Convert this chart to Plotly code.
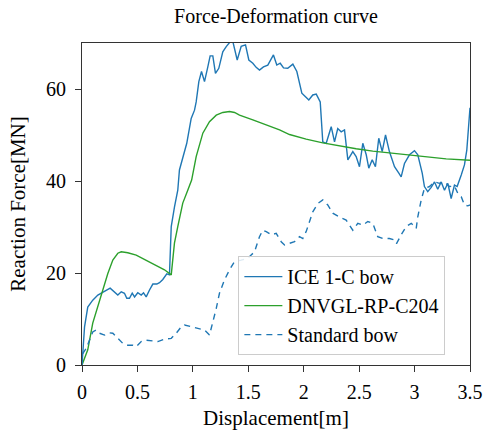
import plotly.graph_objects as go

# ICE 1-C bow
ice_x = [0, 0.007, 0.023, 0.052, 0.097, 0.143, 0.188, 0.218, 0.254, 0.293, 0.323, 0.354, 0.383, 0.404,
         0.428, 0.453, 0.474, 0.503, 0.534, 0.555, 0.579, 0.609, 0.639, 0.675, 0.699, 0.729, 0.765, 0.789,
         0.805, 0.834, 0.864, 0.879, 0.925, 0.945, 0.985, 1.015, 1.030, 1.054, 1.078, 1.105, 1.135, 1.156,
         1.180, 1.204, 1.234, 1.270, 1.301, 1.331, 1.358, 1.400, 1.436, 1.475, 1.505, 1.541, 1.571, 1.601,
         1.637, 1.676, 1.727, 1.757, 1.788, 1.818, 1.856, 1.902, 1.938, 1.962, 1.983, 2.016, 2.046, 2.082,
         2.113, 2.149, 2.172, 2.203, 2.248, 2.278, 2.307, 2.338, 2.368, 2.398, 2.443, 2.473, 2.503, 2.533,
         2.564, 2.587, 2.618, 2.647, 2.677, 2.708, 2.738, 2.773, 2.819, 2.858, 2.879, 2.909, 2.954, 2.999,
         3.029, 3.069, 3.089, 3.119, 3.150, 3.180, 3.209, 3.240, 3.270, 3.300, 3.330, 3.360, 3.384, 3.421,
         3.450, 3.471, 3.495, 3.5]
ice_y = [0, 3.3, 8.3, 12.6, 14.1, 15.2, 15.9, 16.2, 16.7, 15.9, 15.2, 15.9, 15.6, 14.5,
         14.5, 15.6, 14.8, 15.7, 15.2, 15.7, 14.8, 16.3, 17.6, 17.6, 17.9, 18.6, 19.8, 19.6,
         30.1, 34.3, 38.0, 42.4, 46.7, 48.2, 53.6, 55.4, 57.2, 61.6, 63.8, 61.6, 64.8, 67.2,
         67.2, 63.4, 64.5, 68.1, 69.2, 70.1, 70.6, 66.3, 69.3, 69.6, 66.3, 65.6, 64.7, 64.1,
         64.8, 65.2, 67.4, 65.2, 65.6, 64.6, 64.5, 65.4, 63.8, 61.6, 59.1, 58.3, 57.6, 58.7,
         58.9, 57.2, 48.5, 48.2, 51.8, 48.5, 51.4, 50.7, 51.1, 44.6, 46.4, 45.3, 43.1, 48.2,
         45.7, 42.8, 44.6, 43.1, 49.3, 46.4, 50.0, 46.4, 43.1, 41.7, 40.9, 43.8, 45.7, 46.6,
         45.7, 41.7, 38.8, 37.7, 38.6, 39.8, 38.2, 39.8, 38.0, 39.5, 36.2, 39.1, 38.8, 41.3,
         43.5, 46.7, 53.3, 55.9]

# DNVGL-RP-C204
dnv_x = [0, 0.007, 0.052, 0.097, 0.143, 0.188, 0.233, 0.278, 0.323, 0.354, 0.413, 0.489, 0.579, 0.669,
         0.744, 0.805, 0.834, 0.864, 0.909, 0.954, 0.989, 1.030, 1.090, 1.150, 1.211, 1.270, 1.331, 1.376,
         1.421, 1.541, 1.662, 1.782, 1.872, 2.022, 2.172, 2.323, 2.473, 2.623, 2.773, 2.984, 3.285, 3.5]
dnv_y = [0, 0.4, 3.3, 9.1, 12.7, 15.9, 19.9, 22.8, 24.3, 24.6, 24.4, 23.9, 22.8, 21.7,
         20.7, 19.6, 26.5, 30.1, 35.2, 38.0, 40.2, 45.3, 50.4, 52.9, 54.3, 54.9, 55.1, 54.9,
         54.3, 53.3, 52.2, 51.1, 50.1, 49.1, 48.3, 47.6, 47.0, 46.5, 46.1, 45.5, 44.8, 44.5]

# Standard bow
std_x = [0, 0.007, 0.038, 0.068, 0.097, 0.128, 0.158, 0.203, 0.248, 0.278, 0.323, 0.368, 0.413, 0.458,
         0.489, 0.534, 0.579, 0.624, 0.684, 0.744, 0.805, 0.850, 0.895, 0.925, 0.999, 1.060, 1.105, 1.150,
         1.180, 1.211, 1.240, 1.285, 1.331, 1.376, 1.436, 1.496, 1.526, 1.556, 1.601, 1.631, 1.662, 1.707,
         1.752, 1.797, 1.827, 1.872, 1.917, 1.962, 1.992, 2.022, 2.052, 2.082, 2.127, 2.172, 2.217, 2.262,
         2.323, 2.383, 2.443, 2.488, 2.533, 2.578, 2.623, 2.668, 2.713, 2.773, 2.819, 2.837, 2.879, 2.924,
         2.970, 3.015, 3.029, 3.060, 3.089, 3.135, 3.180, 3.224, 3.270, 3.315, 3.360, 3.390, 3.421, 3.450,
         3.480, 3.5]
std_y = [0, 2.5, 3.6, 5.4, 7.2, 7.6, 6.9, 6.5, 7.0, 6.9, 5.8, 4.7, 4.3, 4.3,
         4.0, 5.1, 5.4, 5.3, 5.1, 5.6, 5.8, 6.9, 8.3, 8.7, 8.3, 8.0, 7.6, 6.5,
         9.1, 12.3, 15.6, 18.5, 20.7, 22.5, 22.8, 23.2, 23.9, 24.6, 27.9, 29.3, 29.0, 28.3,
         28.6, 26.8, 26.1, 26.4, 26.8, 27.9, 27.5, 29.0, 31.2, 33.3, 35.1, 35.9, 34.8, 33.0,
         32.2, 31.5, 29.3, 30.8, 30.4, 31.2, 30.8, 27.9, 27.5, 27.5, 27.2, 26.4, 28.3, 30.1,
         30.8, 29.7, 32.2, 35.9, 38.4, 38.8, 39.8, 39.5, 39.8, 38.8, 38.9, 37.3, 36.6, 34.8,
         34.6, 34.8]

font_family = "Liberation Serif"
blue = "#1f77b4"
green = "#2ca02c"

fig = go.Figure()
fig.add_trace(go.Scatter(x=ice_x, y=ice_y, mode="lines", name="ICE 1-C bow",
                         line=dict(color=blue, width=1.4)))
fig.add_trace(go.Scatter(x=dnv_x, y=dnv_y, mode="lines", name="DNVGL-RP-C204",
                         line=dict(color=green, width=1.4)))
fig.add_trace(go.Scatter(x=std_x, y=std_y, mode="lines", name="Standard bow",
                         line=dict(color=blue, width=1.4, dash="6px,5px")))

fig.update_layout(
    width=485, height=431,
    margin=dict(l=82, r=15, t=43, b=66, autoexpand=False),
    paper_bgcolor="white", plot_bgcolor="white",
    font=dict(family=font_family, size=20, color="black"),
    title=dict(text="Force-Deformation curve", x=0.5, xref="paper", xanchor="center",
               y=0.963, yref="container", yanchor="middle",
               font=dict(size=20, family=font_family)),
    showlegend=True,
    legend=dict(x=0.403, y=0.338, xanchor="left", yanchor="top",
                bgcolor="rgba(255,255,255,0.85)", bordercolor="#cccccc", borderwidth=1,
                font=dict(size=20, family=font_family), tracegroupgap=0, itemwidth=38),
    xaxis=dict(range=[0, 3.5], tickvals=[0, 0.5, 1, 1.5, 2, 2.5, 3, 3.5],
               ticktext=["0", "0.5", "1", "1.5", "2", "2.5", "3", "3.5"],
               showgrid=False, zeroline=False, showline=True, linecolor="#333333", linewidth=1.2,
               mirror=True, ticks="outside", ticklen=6, tickcolor="#333333", automargin=True,
               ticklabelstandoff=3,
               title=dict(text="Displacement[m]", font=dict(size=21, family=font_family), standoff=8),
               tickfont=dict(size=20, family=font_family)),
    yaxis=dict(range=[0, 70], tickvals=[0, 20, 40, 60],
               showgrid=False, zeroline=False, showline=True, linecolor="#333333", linewidth=1.2,
               mirror=True, ticks="outside", ticklen=6, tickcolor="#333333", automargin=True,
               ticklabelstandoff=5,
               title=dict(text="Reaction Force[MN]", font=dict(size=21, family=font_family), standoff=14),
               tickfont=dict(size=20, family=font_family)),
)

fig.write_html("out.html")
